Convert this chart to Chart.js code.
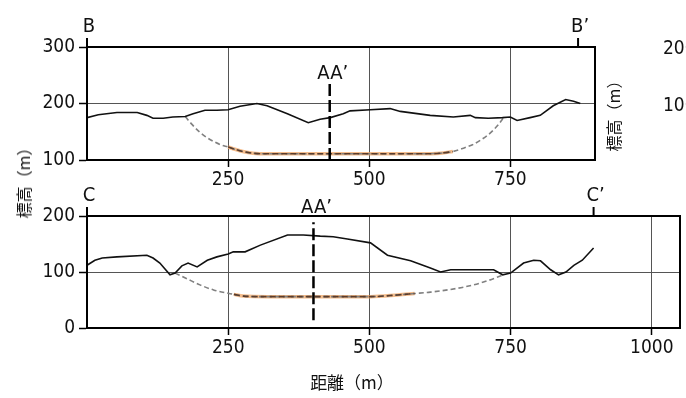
<!DOCTYPE html>
<html>
<head>
<meta charset="utf-8">
<script src="https://cdn.jsdelivr.net/npm/chart.js@4.4.1/dist/chart.umd.min.js"></script>
<style>
  body { margin: 0; background: #fff; }
  #wrap { position: relative; width: 686px; height: 398px; overflow: hidden; background: #fff; }
  canvas { position: absolute; left: 0; }
  .lbl { position: absolute; white-space: nowrap; color: #111; transform: translate(-50%, -50%); }
  .vert { transform: translate(-50%, -50%) rotate(-90deg); font: 16px 'Noto Sans CJK JP', sans-serif; }
  .num { font: 19px 'DejaVu Sans Condensed', sans-serif; transform: translate(0, -50%); }
</style>
</head>
<body>
<div id="wrap">
  <canvas id="chartB" width="686" height="190" style="top:0"></canvas>
  <canvas id="chartC" width="686" height="238" style="top:160px"></canvas>
  <div class="lbl vert" style="left:23px; top:179px">標高（m）</div>
  <div class="lbl vert" style="left:613px; top:112px">標高（m）</div>
  <div class="lbl" style="left:352px; top:381px; font:17px 'Noto Sans CJK JP', sans-serif">距離（m）</div>
  <div class="lbl num" style="left:663px; top:47px">200</div>
  <div class="lbl num" style="left:663px; top:104px">100</div>
</div>
<script>
const FONT = "'DejaVu Sans Condensed', sans-serif"

// B - B' section
const bDist = [0, 20, 53, 89, 106, 117, 135, 152, 174, 188, 209, 230, 250, 271, 301, 319, 355, 392, 413, 431, 454, 466, 502, 537, 555, 608, 649, 679, 688, 711, 736, 750, 762, 785, 803, 826, 848, 862, 874]
const bElev = [175, 180, 184, 184, 179, 174, 174, 176, 177, 182, 188, 188, 189, 195, 200, 196, 182, 166, 172, 175, 182, 187, 189, 191, 186, 179, 176, 179, 175, 174, 175, 176, 170, 175, 179, 196, 207, 204, 200]
const bSlipDist = [174, 186, 200, 212, 224, 237, 250, 262, 276, 294, 320, 400, 500, 590, 626, 648, 667, 683, 697, 710, 720, 730, 738]
const bSlipElev = [177, 163, 149, 140, 133, 127, 123, 119, 115, 112, 111, 111, 111, 111, 112, 115, 121, 127, 135, 144, 153, 164, 175]

// C - C' section
const cDist = [0, 14, 27, 53, 106, 117, 129, 147, 156, 168, 179, 195, 213, 230, 250, 259, 280, 307, 355, 383, 413, 436, 461, 502, 532, 573, 608, 626, 644, 679, 720, 736, 750, 773, 791, 803, 821, 835, 848, 862, 877, 897]
const cElev = [112, 121, 125, 127, 130, 125, 116, 95, 98, 111, 116, 109, 121, 127, 132, 136, 136, 148, 166, 166, 164, 163, 159, 152, 130, 120, 107, 100, 104, 104, 104, 95, 98, 116, 121, 120, 104, 95, 100, 112, 121, 143]
const cSlipDist = [156, 177, 200, 224, 250, 260, 277, 320, 400, 502, 550, 580, 608, 667, 702, 738]
const cSlipElev = [98, 88, 77, 68, 62, 60, 57, 56, 56, 56, 59, 61.5, 64, 73, 82, 95]

const bXTicks = [250, 500, 750]
const bYTicks = [100, 200, 300]
const cXTicks = [250, 500, 750, 1000]
const cYTicks = [0, 100, 200]

const bMarks = [['B', 0], ['B’', 870]]
const cMarks = [['C', 0], ['C’', 897]]
const bAA = [430, 100, 235]
const cAA = [401, 14, 189]

const pts = (xs, ys) => xs.map((x, i) => ({x: x, y: ys[i]}))
const between = (arr, a, b) => arr.filter(p => p.x >= a && p.x <= b)

const framePlugin = {
    id: 'sectionFrame',
    afterDraw(chart, args, opts) {
        const {ctx, chartArea: a, scales} = chart
        ctx.save()
        ctx.strokeStyle = '#000'
        ctx.lineWidth = 2
        ctx.strokeRect(a.left, a.top, a.right - a.left, a.bottom - a.top)
        ctx.fillStyle = '#111'
        ctx.font = '20px ' + FONT
        ctx.textAlign = 'center'
        ctx.textBaseline = 'alphabetic'
        opts.marks.forEach(m => {
            const x = scales.x.getPixelForValue(m[1])
            ctx.beginPath()
            ctx.moveTo(x, a.top - 9)
            ctx.lineTo(x, a.top)
            ctx.stroke()
            ctx.fillText(m[0], x + 2, a.top - 15)
        })
        const ax = scales.x.getPixelForValue(opts.aa[0])
        const ay = scales.y.getPixelForValue(opts.aa[2])
        ctx.fillText('AA’', ax + 3, ay - opts.aaGap)
        ctx.restore()
    }
}

function makeChart(id, terrain, slip, slipFrom, slipTo, aa, xMax, yMin, yMax, xTicks, yTicks, marks, pad, axisH, aaGap) {
    const slipPts = pts(slip[0], slip[1])
    const slipMid = between(slipPts, slipFrom, slipTo)
    return new Chart(document.getElementById(id), {
        type: 'line',
        data: {
            datasets: [
                {
                    data: pts(terrain[0], terrain[1]),
                    borderColor: '#111',
                    borderWidth: 1.6,
                    order: 1
                },
                {
                    data: [{x: aa[0], y: aa[1]}, {x: aa[0], y: aa[2]}],
                    borderColor: '#000',
                    borderWidth: 2.5,
                    borderDash: [12, 4],
                    order: 0
                },
                {
                    data: slipMid,
                    borderColor: '#5a3c2c',
                    borderWidth: 1.6,
                    borderDash: [6, 3],
                    cubicInterpolationMode: 'monotone',
                    order: 2
                },
                {
                    data: slipPts,
                    borderColor: '#808080',
                    borderWidth: 1.6,
                    borderDash: [5, 3],
                    cubicInterpolationMode: 'monotone',
                    order: 3
                },
                {
                    data: slipMid,
                    borderColor: 'rgba(240, 165, 100, 0.75)',
                    borderWidth: 3.5,
                    cubicInterpolationMode: 'monotone',
                    order: 4
                }
            ]
        },
        options: {
            responsive: false,
            animation: false,
            devicePixelRatio: 1,
            layout: {padding: pad},
            elements: {point: {radius: 0}, line: {tension: 0}},
            plugins: {
                legend: {display: false},
                tooltip: {enabled: false},
                sectionFrame: {marks: marks, aa: aa, aaGap: aaGap}
            },
            scales: {
                x: {
                    type: 'linear',
                    min: 0,
                    max: xMax,
                    afterBuildTicks: s => { s.ticks = xTicks.map(v => ({value: v})) },
                    afterFit: s => { s.height = axisH },
                    grid: {color: '#555', lineWidth: 1, tickLength: 7, tickColor: '#000', tickWidth: 1.5},
                    border: {color: '#000', width: 2},
                    ticks: {color: '#111', padding: 2, maxRotation: 0, callback: v => v, font: {family: FONT, size: 19}}
                },
                y: {
                    min: yMin,
                    max: yMax,
                    afterBuildTicks: s => { s.ticks = yTicks.map(v => ({value: v})) },
                    afterFit: s => { s.width = 87 },
                    grid: {color: '#555', lineWidth: 1, tickLength: 8, tickColor: '#000', tickWidth: 1.5},
                    border: {color: '#000', width: 2},
                    ticks: {color: '#111', padding: 4, callback: v => v, font: {family: FONT, size: 19}}
                }
            }
        },
        plugins: [framePlugin]
    })
}

makeChart('chartB', [bDist, bElev], [bSlipDist, bSlipElev], 250, 650, bAA, 900, 100, 300,
    bXTicks, bYTicks, bMarks, {top: 47, right: 91, left: 0, bottom: 0}, 30, 5)

makeChart('chartC', [cDist, cElev], [cSlipDist, cSlipElev], 255, 580, cAA, 1050, 0, 200,
    cXTicks, cYTicks, cMarks, {top: 56, right: 6, left: 0, bottom: 0}, 70, 9)
</script>
</body>
</html>
